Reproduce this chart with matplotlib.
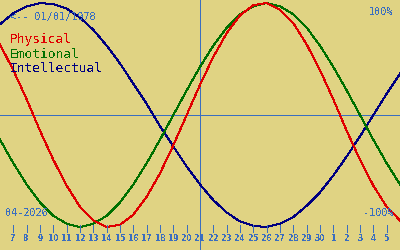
import matplotlib
matplotlib.use("Agg")
import matplotlib.pyplot as plt

# days from 6 april 2026 (x=0) to 6 may (x=400), 36 = may 6
days = list(range(6, 37))

# percent values, one per day
physical = [63, 40, 14, -14, -40, -63, -82, -94, -100, -98, -89, -73, -52, -27,
            0, 27, 52, 73, 89, 98, 100, 94, 82, 63, 40, 14, -14, -40, -63, -82, -94]
emotional = [-22, -43, -62, -78, -90, -97, -100, -97, -90, -78, -62, -43, -22,
             0, 22, 43, 62, 78, 90, 97, 100, 97, 90, 78, 62, 43, 22, 0, -22, -43, -62]
intellectual = [81, 91, 97, 100, 99, 95, 87, 76, 62, 46, 28, 10, -10, -28, -46,
                -62, -76, -87, -95, -99, -100, -97, -91, -81, -69, -54, -37, -19,
                0, 19, 37]

tick_days = list(range(7, 36))
tick_labels = [str(d) for d in range(7, 31)] + [str(d) for d in range(1, 6)]
today = 21

bg = "#e0d383"
blue = "#3a6ec0"
lw = 0.72  # one pixel

plt.rcParams["text.antialiased"] = False

fig = plt.figure(figsize=(4, 2.5), dpi=100, facecolor=bg)
ax = fig.add_axes([0, 0, 1, 1])
ax.set_facecolor(bg)
ax.set_xlim(6, 36)
ax.set_ylim(-120.5, 102.7)
ax.axis("off")

# centre line and today marker
ax.axhline(0, color=blue, lw=lw, antialiased=False)
ax.axvline(today, color=blue, lw=lw, antialiased=False)

ax.plot(days, intellectual, color="#000080", lw=lw, antialiased=False)
ax.plot(days, emotional, color="#007000", lw=lw, antialiased=False)
ax.plot(days, physical, color="#e00000", lw=lw, antialiased=False)

# day ticks along the bottom
ax.vlines(tick_days, -98.5, -104.2, color=blue, lw=lw, antialiased=False)
for d, lab in zip(tick_days, tick_labels):
    ax.text(d, -110.5, lab, color=blue, fontsize=5.5, fontweight="bold",
            ha="center", va="center")

mono = "DejaVu Sans Mono"
ax.text(10 / 400, 1 - 17 / 250, "<-- 01/01/1978", transform=ax.transAxes,
        family=mono, fontsize=7.3, color=blue, va="center", ha="left")
ax.text(393 / 400, 1 - 12 / 250, "100%", transform=ax.transAxes,
        family=mono, fontsize=7.3, color=blue, va="center", ha="right")
ax.text(394 / 400, 1 - 212.5 / 250, "-100%", transform=ax.transAxes,
        family=mono, fontsize=7.3, color=blue, va="center", ha="right")
ax.text(5 / 400, 1 - 212.5 / 250, "04-2026", transform=ax.transAxes,
        family=mono, fontsize=7.3, color=blue, va="center", ha="left")

for i, (name, col) in enumerate([("Physical", "#e00000"), ("Emotional", "#007000"),
                                 ("Intellectual", "#000080")]):
    ax.text(10 / 400, 1 - (43 + i * 14.5) / 250, name, transform=ax.transAxes,
            family=mono, fontsize=9.3, color=col, va="baseline", ha="left")

fig.savefig("out.png", dpi=100, facecolor=bg)
